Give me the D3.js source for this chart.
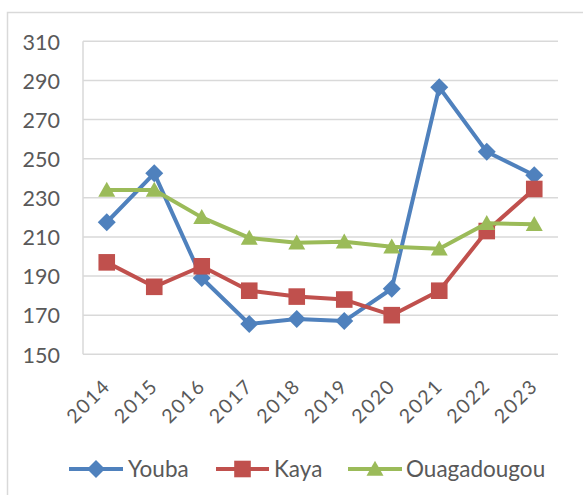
<!DOCTYPE html>
<html>
<head>
<meta charset="utf-8">
<script src="https://cdn.jsdelivr.net/npm/d3@7"></script>
<style>
  html, body { margin: 0; padding: 0; background: #fff; }
  svg text { font-family: Lato, "Open Sans", sans-serif; fill: #595959; }
</style>
</head>
<body>
<svg id="chart" width="583" height="495"></svg>
<script>
// Years on the x axis
const years = ["2014", "2015", "2016", "2017", "2018", "2019", "2020", "2021", "2022", "2023"];
// Series values
const youba = [217.5, 242.5, 189, 165.5, 168, 167, 183.5, 286.5, 253.5, 241.5];
const kaya = [197, 184.5, 195, 182.5, 179.5, 178, 170, 182.5, 213, 234.5];
const ouagadougou = [234, 234, 220, 209.5, 207, 207.5, 205, 204, 217, 216.5];
// Y axis ticks
const yTicks = [150, 170, 190, 210, 230, 250, 270, 290, 310];

const seriesNames = ["Youba", "Kaya", "Ouagadougou"];
const seriesValues = [youba, kaya, ouagadougou];
const colors = ["#4F81BD", "#C0504D", "#9BBB59"];
const markers = ["diamond", "square", "triangle"];

const svg = d3.select("#chart");

// outer chart frame
svg.append("rect")
  .attr("x", 7.5).attr("y", 12.5)
  .attr("width", 600).attr("height", 520)
  .attr("fill", "none").attr("stroke", "#D9D9D9").attr("stroke-width", 1.5);

const plot = { left: 83, right: 558, top: 41.3, bottom: 354.3 };

const x = d3.scaleBand().domain(years).range([plot.left, plot.right]);
const y = d3.scaleLinear().domain([150, 310]).range([plot.bottom, plot.top]);
const cx = d => x(d) + x.bandwidth() / 2;

// horizontal gridlines
svg.append("g")
  .selectAll("line")
  .data(yTicks)
  .join("line")
  .attr("x1", plot.left).attr("x2", plot.right)
  .attr("y1", d => y(d)).attr("y2", d => y(d))
  .attr("stroke", "#D9D9D9").attr("stroke-width", 1.5);

// vertical axis line
svg.append("line")
  .attr("x1", plot.left).attr("x2", plot.left)
  .attr("y1", plot.top).attr("y2", plot.bottom)
  .attr("stroke", "#D9D9D9").attr("stroke-width", 1.5);

// y axis labels
const yAxis = d3.axisLeft(y).tickValues(yTicks).tickSize(0).tickPadding(23);
const gy = svg.append("g").attr("transform", `translate(${plot.left},0)`).call(yAxis);
gy.select(".domain").remove();
gy.selectAll("text")
  .attr("font-size", 21.5)
  .attr("font-family", "Lato, 'Open Sans', sans-serif")
  .attr("fill", "#595959")
  .attr("dy", "0.36em");

// x axis labels, rotated
const xAxis = d3.axisBottom(x).tickSize(0).tickPadding(0);
const gx = svg.append("g").attr("transform", `translate(0,${plot.bottom})`).call(xAxis);
gx.select(".domain").remove();
gx.selectAll("text")
  .attr("font-size", 19.5)
  .attr("font-family", "Lato, 'Open Sans', sans-serif")
  .attr("fill", "#595959")
  .attr("letter-spacing", 1.8)
  .attr("text-anchor", "end")
  .attr("dy", 0)
  .attr("transform", "translate(5,33) rotate(-45)");

// marker shapes
function markerPath(kind, s) {
  if (kind === "diamond") {
    const r = 9 * s;
    return `M0,${-r}L${r},0L0,${r}L${-r},0Z`;
  }
  if (kind === "square") {
    const r = 8.3 * s;
    return `M${-r},${-r}H${r}V${r}H${-r}Z`;
  }
  const w = 8.5 * s, h = 15 * s;
  return `M0,${-h * 0.55}L${w},${h * 0.45}L${-w},${h * 0.45}Z`;
}

const line = d3.line()
  .x((d, i) => cx(years[i]))
  .y(d => y(d));

seriesValues.forEach((vals, k) => {
  const g = svg.append("g");
  g.append("path")
    .datum(vals)
    .attr("d", line)
    .attr("fill", "none")
    .attr("stroke", colors[k])
    .attr("stroke-width", 4)
    .attr("stroke-linejoin", "round");
  g.selectAll("path.m")
    .data(vals)
    .join("path")
    .attr("class", "m")
    .attr("transform", (d, i) => `translate(${cx(years[i])},${y(d)})`)
    .attr("d", markerPath(markers[k], 1))
    .attr("fill", colors[k]);
});

// legend
const legendItems = [
  { x0: 69, x1: 123, tx: 128 },
  { x0: 216, x1: 269, tx: 274 },
  { x0: 348, x1: 402, tx: 406 }
];
const ly = 469;
legendItems.forEach((it, k) => {
  const g = svg.append("g");
  g.append("line")
    .attr("x1", it.x0).attr("x2", it.x1)
    .attr("y1", ly).attr("y2", ly)
    .attr("stroke", colors[k]).attr("stroke-width", 4);
  g.append("path")
    .attr("transform", `translate(${(it.x0 + it.x1) / 2},${ly})`)
    .attr("d", markerPath(markers[k], 1))
    .attr("fill", colors[k]);
  g.append("text")
    .attr("x", it.tx).attr("y", ly)
    .attr("dy", "0.36em")
    .attr("font-size", 22.5)
    .text(seriesNames[k]);
});
</script>
</body>
</html>
